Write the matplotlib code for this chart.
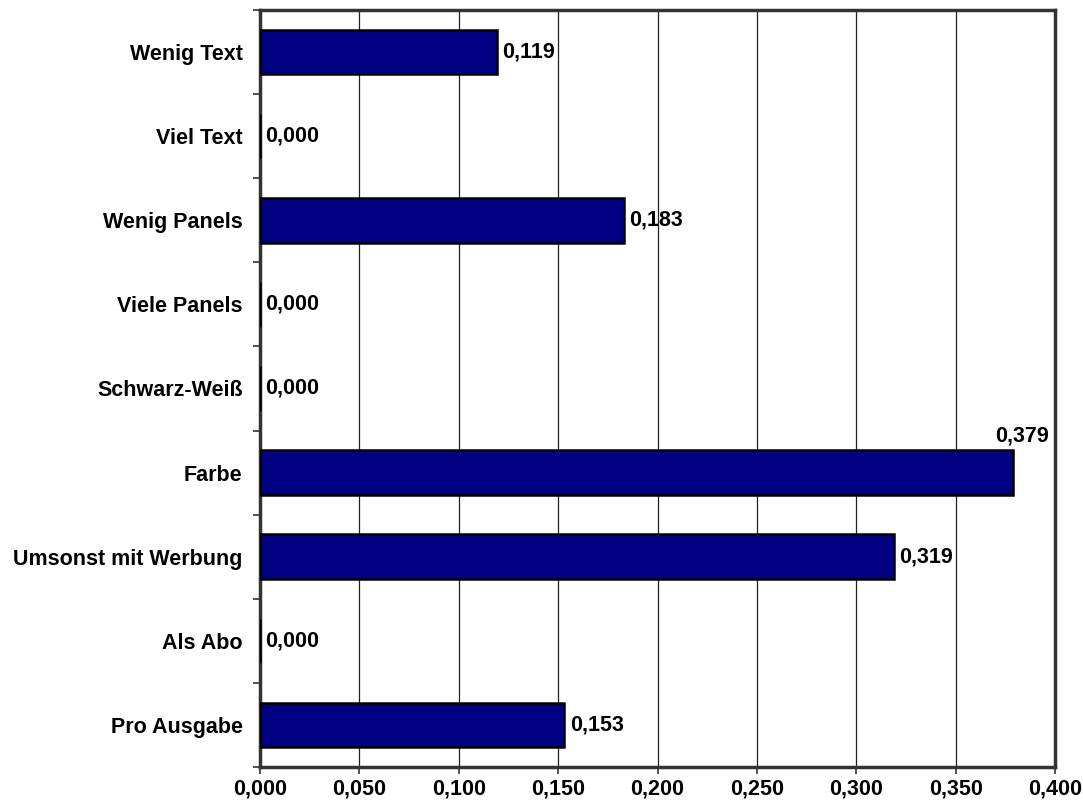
import matplotlib
matplotlib.use("Agg")
import matplotlib.pyplot as plt
import numpy as np

categories = ["Wenig Text", "Viel Text", "Wenig Panels", "Viele Panels", "Schwarz-Weiß",
              "Farbe", "Umsonst mit Werbung", "Als Abo", "Pro Ausgabe"]
values = [0.119, 0.000, 0.183, 0.000, 0.000, 0.379, 0.319, 0.000, 0.153]
xticks = [0.0, 0.05, 0.10, 0.15, 0.20, 0.25, 0.30, 0.35, 0.40]

plt.rcParams['font.family'] = ['Liberation Sans', 'DejaVu Sans']
plt.rcParams['font.weight'] = 'bold'

FS = 15.5

fig = plt.figure(figsize=(10.83, 8.02), dpi=100)
ax = fig.add_axes([260/1083, 1-767/802, (1055-260)/1083, (767-10)/802])

y = np.arange(len(categories))
ax.barh(y, values, height=0.53, color="#000080", edgecolor="black", linewidth=1.8, zorder=3)

ax.set_xlim(0, 0.40)
ax.set_ylim(len(categories) - 0.5, -0.5)
ax.set_xticks(xticks)
ax.set_xticklabels([f"{t:.3f}".replace(".", ",") for t in xticks], fontsize=FS, fontweight='bold')
ax.set_yticks(y)
ax.set_yticklabels(categories, fontsize=FS, fontweight='bold')
ax.tick_params(axis='y', which='major', length=0, pad=12.5)
ax.set_yticks(np.arange(-0.5, len(categories), 1.0), minor=True)
ax.tick_params(axis='y', which='minor', length=5, width=1.2, direction='out', color='#333333')
ax.tick_params(axis='x', which='major', length=5, width=1.2, direction='out', color='#333333', pad=3)

ax.grid(axis='x', color='#222222', linewidth=0.9, zorder=0)
for s in ax.spines.values():
    s.set_color('#333333')
    s.set_linewidth(2.5)

for yi, v in zip(y, values):
    txt = f"{v:.3f}".replace(".", ",")
    if v > 0.36:
        ax.annotate(txt, xy=(v, yi - 0.265), xytext=(6, 3), textcoords='offset points',
                    ha='center', va='bottom', fontsize=FS, fontweight='bold', zorder=4)
    else:
        ax.annotate(txt, xy=(v, yi), xytext=(4, 0), textcoords='offset points',
                    ha='left', va='center', fontsize=FS, fontweight='bold', zorder=4)

fig.savefig("out.png", dpi=100, facecolor='white')
